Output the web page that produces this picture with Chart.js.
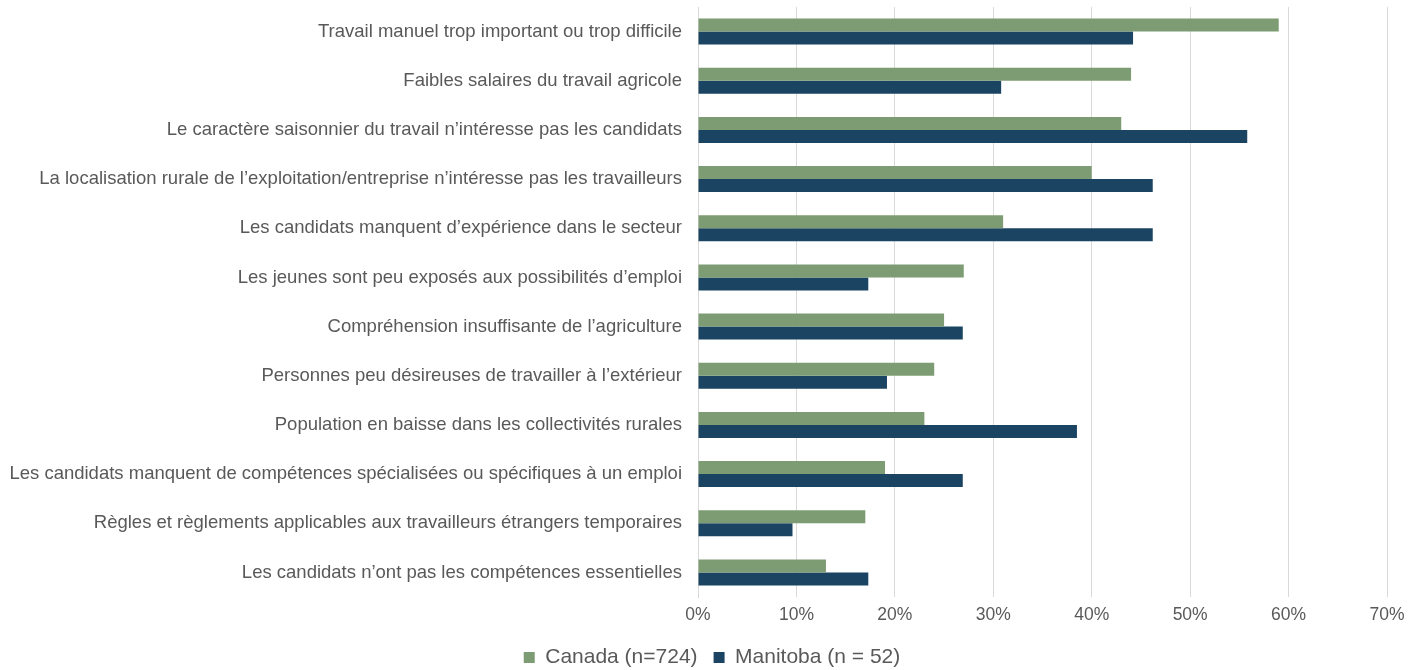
<!DOCTYPE html>
<html>
<head>
<meta charset="utf-8">
<script src="https://cdn.jsdelivr.net/npm/chart.js@4/dist/chart.umd.min.js"></script>
<style>
  html, body { margin: 0; padding: 0; background: #fff; }
  #wrap { width: 1424px; height: 670px; }
</style>
</head>
<body>
<div id="wrap"><canvas id="myChartCanvas"></canvas></div>
<script>
const categories = [
  "Travail manuel trop important ou trop difficile",
  "Faibles salaires du travail agricole",
  "Le caractère saisonnier du travail n’intéresse pas les candidats",
  "La localisation rurale de l’exploitation/entreprise n’intéresse pas les travailleurs",
  "Les candidats manquent d’expérience dans le secteur",
  "Les jeunes sont peu exposés aux possibilités d’emploi",
  "Compréhension insuffisante de l’agriculture",
  "Personnes peu désireuses de travailler à l’extérieur",
  "Population en baisse dans les collectivités rurales",
  "Les candidats manquent de compétences spécialisées ou spécifiques à un emploi",
  "Règles et règlements applicables aux travailleurs étrangers temporaires",
  "Les candidats n’ont pas les compétences essentielles"
];
const canada = [59, 44, 43, 40, 31, 27, 25, 24, 23, 19, 17, 13];
const manitoba = [44.2, 30.8, 55.8, 46.2, 46.2, 17.3, 26.9, 19.2, 38.5, 26.9, 9.6, 17.3];
const seriesNames = ["Canada (n=724)", "Manitoba (n = 52)"];
const xTicks = [0, 10, 20, 30, 40, 50, 60, 70];

const textColor = '#595959';
const fontFamily = '"Liberation Sans", Arial, sans-serif';

const ctx = document.getElementById('myChartCanvas').getContext('2d');
new Chart(ctx, {
  type: 'bar',
  data: {
    labels: categories,
    datasets: [
      {
        label: seriesNames[0],
        data: canada,
        backgroundColor: '#7e9c73',
        barPercentage: 1,
        categoryPercentage: 0.53
      },
      {
        label: seriesNames[1],
        data: manitoba,
        backgroundColor: '#1b4462',
        barPercentage: 1,
        categoryPercentage: 0.53
      }
    ]
  },
  options: {
    indexAxis: 'y',
    responsive: true,
    maintainAspectRatio: false,
    animation: false,
    layout: { padding: { top: 7, right: 0, bottom: -8, left: 0 } },
    scales: {
      x: {
        min: 0,
        max: 70,
        afterBuildTicks: (scale) => { scale.ticks = xTicks.map(v => ({ value: v })); },
        afterFit: (scale) => { scale.height = 34; },
        grid: { color: '#d9d9d9', lineWidth: 1, drawTicks: false },
        border: { display: false },
        ticks: {
          color: textColor,
          padding: 8,
          font: { family: fontFamily, size: 17.5 },
          callback: (v) => v + '%'
        }
      },
      y: {
        afterFit: (scale) => {
          scale.width = 698;
          scale.paddingTop = 0;
          scale.paddingBottom = 0;
        },
        grid: { display: false },
        border: { color: '#d9d9d9' },
        ticks: {
          color: textColor,
          padding: 8,
          autoSkip: false,
          font: { family: fontFamily, size: 18.5 }
        }
      },
      // empty right-hand spacer so the plot stops at 70%
      yRight: {
        type: 'category',
        position: 'right',
        grid: { display: false },
        border: { display: false },
        ticks: { display: false },
        afterFit: (scale) => {
          scale.width = 37;
          scale.paddingTop = 0;
          scale.paddingBottom = 0;
        }
      }
    },
    plugins: {
      legend: {
        position: 'bottom',
        labels: {
          color: textColor,
          boxWidth: 11,
          boxHeight: 11,
          padding: 16,
          font: { family: fontFamily, size: 21 }
        }
      },
      tooltip: { enabled: false }
    }
  }
});
</script>
</body>
</html>
